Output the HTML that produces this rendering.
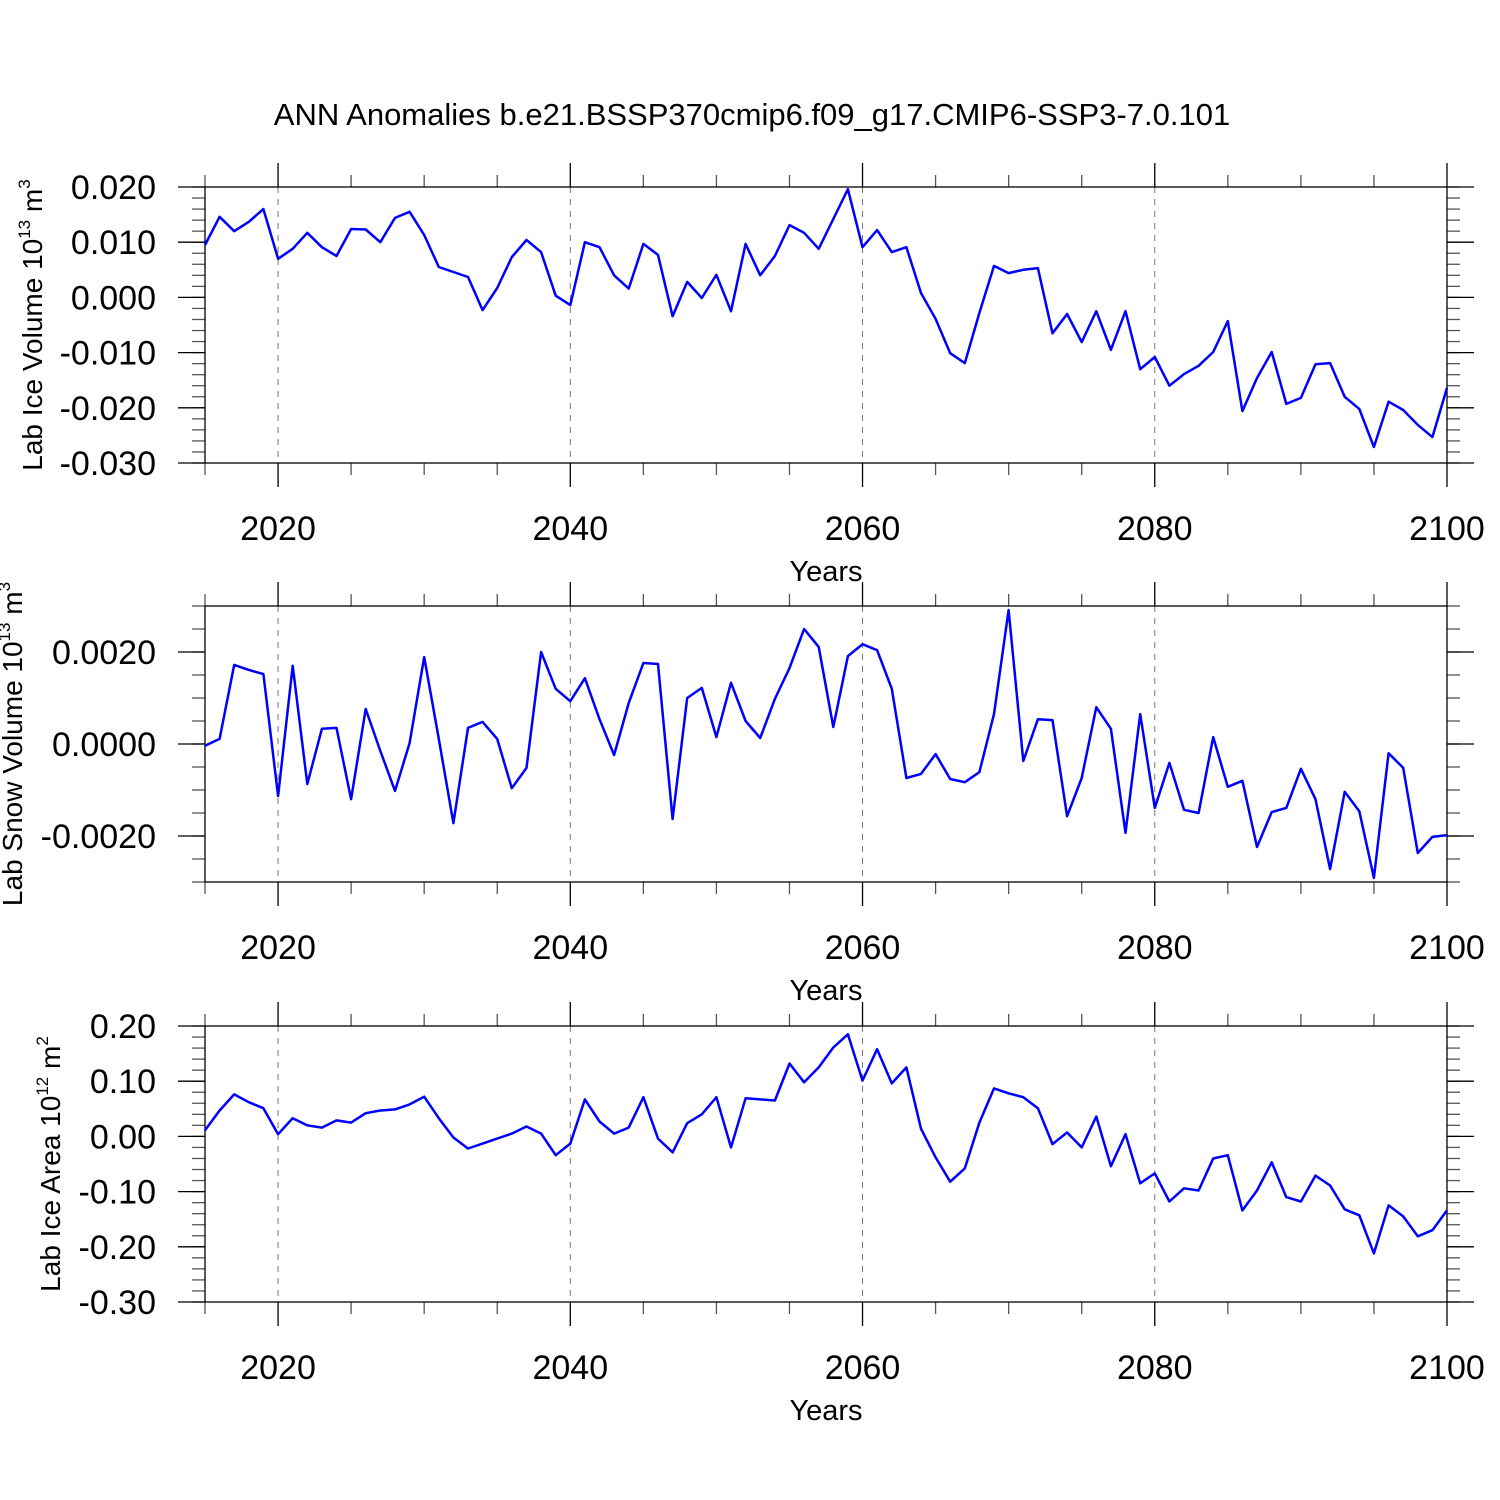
<!DOCTYPE html>
<html><head><meta charset="utf-8"><style>body{margin:0;background:#fff}svg{display:block}text{font-family:"Liberation Sans",sans-serif;fill:#000}</style></head>
<body>
<svg id="chart" width="1500" height="1500" xmlns="http://www.w3.org/2000/svg">
<text x="752" y="125" font-size="31" text-anchor="middle">ANN Anomalies b.e21.BSSP370cmip6.f09_g17.CMIP6-SSP3-7.0.101</text>
</svg>
<script>
const years = [];
for (let y = 2015; y <= 2100; y++) years.push(y);
const xTickYears = [2020, 2040, 2060, 2080, 2100];
const iceVolume = [0.0095,0.0146,0.012,0.0137,0.016,0.007,0.0088,0.0117,0.0091,0.0075,0.0124,0.0123,0.010,0.0144,0.0155,0.0113,0.0055,0.0046,0.0037,-0.0023,0.0017,0.0073,0.0104,0.0082,0.0003,-0.0014,0.010,0.0091,0.004,0.0016,0.0097,0.0077,-0.0034,0.0028,-0.0001,0.0041,-0.0025,0.0097,0.004,0.0075,0.0131,0.0117,0.0088,0.0142,0.0196,0.0091,0.0122,0.0082,0.0091,0.0008,-0.0039,-0.0101,-0.0119,-0.0028,0.0057,0.0044,0.005,0.0053,-0.0065,-0.003,-0.0081,-0.0025,-0.0095,-0.0025,-0.013,-0.0108,-0.016,-0.0139,-0.0124,-0.0099,-0.0043,-0.0206,-0.0146,-0.0099,-0.0193,-0.0182,-0.0121,-0.0119,-0.018,-0.0202,-0.0271,-0.0189,-0.0204,-0.0231,-0.0253,-0.0164];
const snowVolume = [-0.04,0.11,1.72,1.61,1.52,-1.13,1.70,-0.87,0.33,0.35,-1.2,0.76,-0.15,-1.02,0.02,1.89,0.11,-1.72,0.35,0.48,0.11,-0.96,-0.52,2.0,1.2,0.93,1.43,0.54,-0.24,0.89,1.76,1.74,-1.63,1.0,1.22,0.15,1.33,0.5,0.13,0.98,1.65,2.5,2.11,0.37,1.91,2.17,2.04,1.2,-0.74,-0.65,-0.22,-0.76,-0.83,-0.61,0.65,2.91,-0.37,0.54,0.52,-1.57,-0.74,0.8,0.33,-1.93,0.65,-1.39,-0.41,-1.43,-1.5,0.15,-0.93,-0.8,-2.24,-1.48,-1.39,-0.54,-1.2,-2.72,-1.04,-1.46,-2.91,-0.2,-0.52,-2.37,-2.02,-1.98].map(v => v * 0.001);
const iceArea = [0.011,0.047,0.076,0.062,0.051,0.004,0.033,0.02,0.016,0.029,0.025,0.042,0.047,0.049,0.058,0.072,0.033,-0.002,-0.022,-0.013,-0.004,0.005,0.018,0.005,-0.034,-0.013,0.067,0.027,0.005,0.016,0.071,-0.004,-0.029,0.024,0.04,0.071,-0.02,0.069,0.067,0.065,0.132,0.098,0.125,0.161,0.185,0.101,0.158,0.096,0.125,0.014,-0.038,-0.082,-0.058,0.025,0.087,0.078,0.071,0.051,-0.014,0.007,-0.02,0.036,-0.054,0.004,-0.085,-0.067,-0.118,-0.094,-0.098,-0.04,-0.034,-0.134,-0.098,-0.047,-0.11,-0.118,-0.071,-0.089,-0.132,-0.143,-0.212,-0.125,-0.145,-0.181,-0.17,-0.134];
const volTicks = [0.02, 0.01, 0, -0.01, -0.02, -0.03];
const volLabels = ["0.020","0.010","0.000","-0.010","-0.020","-0.030"];
const snowTicks = [0.002, 0, -0.002];
const snowLabels = ["0.0020","0.0000","-0.0020"];
const areaTicks = [0.2, 0.1, 0, -0.1, -0.2, -0.3];
const areaLabels = ["0.20","0.10","0.00","-0.10","-0.20","-0.30"];

const NS = "http://www.w3.org/2000/svg";
const svg = document.getElementById("chart");
function mk(tag, attrs, parent) {
  const e = document.createElementNS(NS, tag);
  for (const k in attrs) e.setAttribute(k, attrs[k]);
  (parent || svg).appendChild(e);
  return e;
}
const X0 = 205, X1 = 1447;
function xs(yr) { return X0 + (yr - 2015) / 85 * (X1 - X0); }

function panel(name, top, ymin, ymax, minorStep, ticks, labels, data, ylabel, sup, unitSup, ylabX) {
  const bot = top + 276;
  const g = mk("g", {});
  
  
  const ys = v => bot - (v - ymin) / (ymax - ymin) * 276;
  for (const yr of [2020, 2040, 2060, 2080]) {
    const l = mk("line", {x1: xs(yr), x2: xs(yr), y1: top, y2: bot, stroke: "#777", "stroke-width": 1, "stroke-dasharray": "6,6"}, g);
    
    
  }
  const nMin = Math.round((ymax - ymin) / minorStep);
  for (let i = 0; i <= nMin; i++) {
    const y = ys(ymin + i * minorStep);
    mk("line", {x1: X0 - 13, x2: X0, y1: y, y2: y, stroke: "#555", "stroke-width": 1.3}, g);
    mk("line", {x1: X1, x2: X1 + 13, y1: y, y2: y, stroke: "#555", "stroke-width": 1.3}, g);
  }
  ticks.forEach((t, i) => {
    const y = ys(t);
    mk("line", {x1: X0 - 27, x2: X0, y1: y, y2: y, stroke: "#000", "stroke-width": 1.3}, g);
    mk("line", {x1: X1, x2: X1 + 27, y1: y, y2: y, stroke: "#000", "stroke-width": 1.3}, g);
    const t2 = mk("text", {x: 156, y: y + 12, "font-size": 34, "text-anchor": "end"}, g);
    t2.textContent = labels[i];
    
    
  });
  for (let yr = 2015; yr <= 2100; yr += 5) {
    const major = yr % 20 === 0;
    const L = major ? 24 : 12;
    mk("line", {x1: xs(yr), x2: xs(yr), y1: top - L, y2: top, stroke: major ? "#000" : "#555", "stroke-width": 1.3}, g);
    mk("line", {x1: xs(yr), x2: xs(yr), y1: bot, y2: bot + L, stroke: major ? "#000" : "#555", "stroke-width": 1.3}, g);
  }
  xTickYears.forEach(yr => {
    const t = mk("text", {x: xs(yr), y: bot + 77, "font-size": 34, "text-anchor": "middle"}, g);
    t.textContent = yr;
    
    
  });
  const xt = mk("text", {x: 826, y: bot + 118, "font-size": 29, "text-anchor": "middle"}, g);
  xt.textContent = "Years";
  
  
  const fr = mk("rect", {x: X0, y: top, width: X1 - X0, height: 276, fill: "none", stroke: "#000", "stroke-width": 1.3}, g);
  
  
  const pts = data.map((v, i) => xs(years[i]).toFixed(1) + "," + ys(v).toFixed(1)).join(" ");
  const pl = mk("polyline", {points: pts, fill: "none", stroke: "#0000ff", "stroke-width": 2.5, "stroke-linejoin": "round"}, g);
  
  
  const yl = mk("text", {transform: `translate(${ylabX},${top + 138}) rotate(-90)`, "font-size": 28, "text-anchor": "middle"}, g);
  
  
  const a = mk("tspan", {}, yl); a.textContent = ylabel + " 10";
  const b = mk("tspan", {dy: -12, "font-size": 17}, yl); b.textContent = sup;
  const c = mk("tspan", {dy: 12}, yl); c.textContent = " m";
  const d = mk("tspan", {dy: -12, "font-size": 17}, yl); d.textContent = unitSup;
}
panel("ice-volume", 187, -0.03, 0.02, 0.002, volTicks, volLabels, iceVolume, "Lab Ice Volume", "13", "3", 42);
panel("snow-volume", 606, -0.003, 0.003, 0.0005, snowTicks, snowLabels, snowVolume, "Lab Snow Volume", "13", "3", 22);
panel("ice-area", 1026, -0.3, 0.2, 0.02, areaTicks, areaLabels, iceArea, "Lab Ice Area", "12", "2", 60);
</script>
</body></html>
